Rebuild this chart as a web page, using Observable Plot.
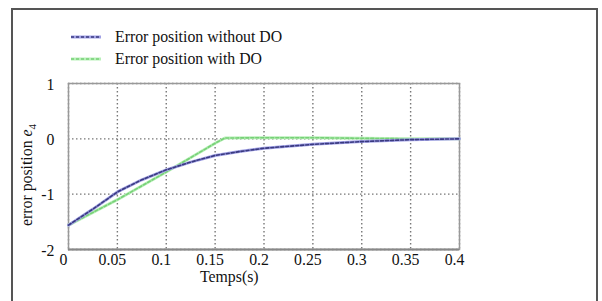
<!DOCTYPE html>
<html>
<head>
<meta charset="utf-8">
<script src="https://cdn.jsdelivr.net/npm/d3@7"></script>
<script src="https://cdn.jsdelivr.net/npm/@observablehq/plot@0.6"></script>
<style>
  html, body { margin: 0; padding: 0; background: #fff; }
  #wrap { position: relative; width: 602px; height: 301px; overflow: hidden; font-family: "Liberation Serif", "Times New Roman", serif; }
  #border { position: absolute; left: 11px; top: 8px; width: 587px; height: 300px; border: 2px solid #555; border-bottom: none; box-sizing: border-box; }
  .lg { position: absolute; left: 70px; display: flex; align-items: center; font-size: 15.8px; color: #111; }
  .lg svg { margin-right: 13px; }
  #xlab { position: absolute; left: 200px; top: 268px; font-size: 15.8px; color: #111; }
  #ylab { position: absolute; left: 28px; top: 175px; transform: translate(-50%, -50%) rotate(-90deg); white-space: nowrap; font-size: 15.8px; color: #111; }
  #chart { position: absolute; left: 0; top: 0; }
</style>
</head>
<body>
<div id="wrap">
  <div id="chart"></div>
  <div id="border"></div>
  <div class="lg" style="top:28px"><svg width="32" height="6"><line x1="1" x2="31" y1="3" y2="3" stroke="#a0a0e4" stroke-width="3"/><line x1="1" x2="31" y1="3" y2="3" stroke="#3a3a80" stroke-width="1.6" stroke-dasharray="3,2"/></svg><span>Error position without DO</span></div>
  <div class="lg" style="top:50px"><svg width="32" height="6"><line x1="1" x2="31" y1="3" y2="3" stroke="#b8f0b8" stroke-width="3"/><line x1="1" x2="31" y1="3" y2="3" stroke="#77d077" stroke-width="1.6" stroke-dasharray="3,2"/></svg><span>Error position with DO</span></div>
  <div id="xlab">Temps(s)</div>
  <div id="ylab">error position <i>e</i><sub style="font-size:11px">4</sub></div>
</div>
<script>
// Series without disturbance observer (DO)
const tWithout = [0, 0.025, 0.05, 0.075, 0.1, 0.125, 0.15, 0.175, 0.2, 0.25, 0.3, 0.35, 0.4];
const eWithout = [-1.56, -1.27, -0.96, -0.74, -0.56, -0.42, -0.3, -0.23, -0.17, -0.1, -0.05, -0.015, 0];
// Series with DO
const tWith = [0, 0.05, 0.1, 0.15, 0.16, 0.2, 0.25, 0.3, 0.35, 0.4];
const eWith = [-1.56, -1.1, -0.6, -0.08, 0.015, 0.02, 0.02, 0.01, 0, 0];
// Ticks
const xTicks = [0, 0.05, 0.1, 0.15, 0.2, 0.25, 0.3, 0.35, 0.4];
const xTickLabels = ["0", "0.05", "0.1", "0.15", "0.2", "0.25", "0.3", "0.35", "0.4"];
const yTicks = [1, 0, -1, -2];
const yTickLabels = ["1", "0", "-1", "-2"];

const without = tWithout.map((t, i) => ({t, e: eWithout[i]}));
const withDO = tWith.map((t, i) => ({t, e: eWith[i]}));

const font = '"Liberation Serif", "Times New Roman", serif';
const chart = Plot.plot({
  width: 602,
  height: 301,
  marginLeft: 68,
  marginRight: 143,
  marginTop: 83,
  marginBottom: 52,
  style: {fontFamily: font, fontSize: "15.8px", color: "#111", background: "transparent"},
  x: {domain: [0, 0.4]},
  y: {domain: [-2, 1]},
  marks: [
    Plot.gridX(xTicks, {stroke: "#777", strokeOpacity: 1, strokeWidth: 1.4, strokeDasharray: "1.5,2.5"}),
    Plot.gridY(yTicks, {stroke: "#777", strokeOpacity: 1, strokeWidth: 1.4, strokeDasharray: "1.5,2.5"}),
    Plot.frame({stroke: "#999", strokeWidth: 1.5}),
    Plot.ruleY([-2], {stroke: "#888", strokeWidth: 2.2}),
    Plot.line(withDO, {x: "t", y: "e", stroke: "#b8f0b8", strokeWidth: 3}),
    Plot.line(withDO, {x: "t", y: "e", stroke: "#77d077", strokeWidth: 1.6, strokeDasharray: "3,2"}),
    Plot.line(without, {x: "t", y: "e", stroke: "#a0a0e4", strokeWidth: 3}),
    Plot.line(without, {x: "t", y: "e", stroke: "#3a3a80", strokeWidth: 1.6, strokeDasharray: "3,2"}),
    Plot.axisX({ticks: xTicks, tickFormat: (d, i) => xTickLabels[i], tickSize: 0, tickPadding: 4, dx: -5, label: null, fontSize: 15.8, fontFamily: font, fontWeight: "normal", fill: "#111"}),
    Plot.axisY({ticks: yTicks, tickFormat: (d, i) => yTickLabels[i], tickSize: 0, tickPadding: 14, dy: 1, label: null, fontSize: 15.8, fontFamily: font, fontWeight: "normal", fill: "#111"})
  ]
});
document.getElementById("chart").appendChild(chart);
</script>
</body>
</html>
